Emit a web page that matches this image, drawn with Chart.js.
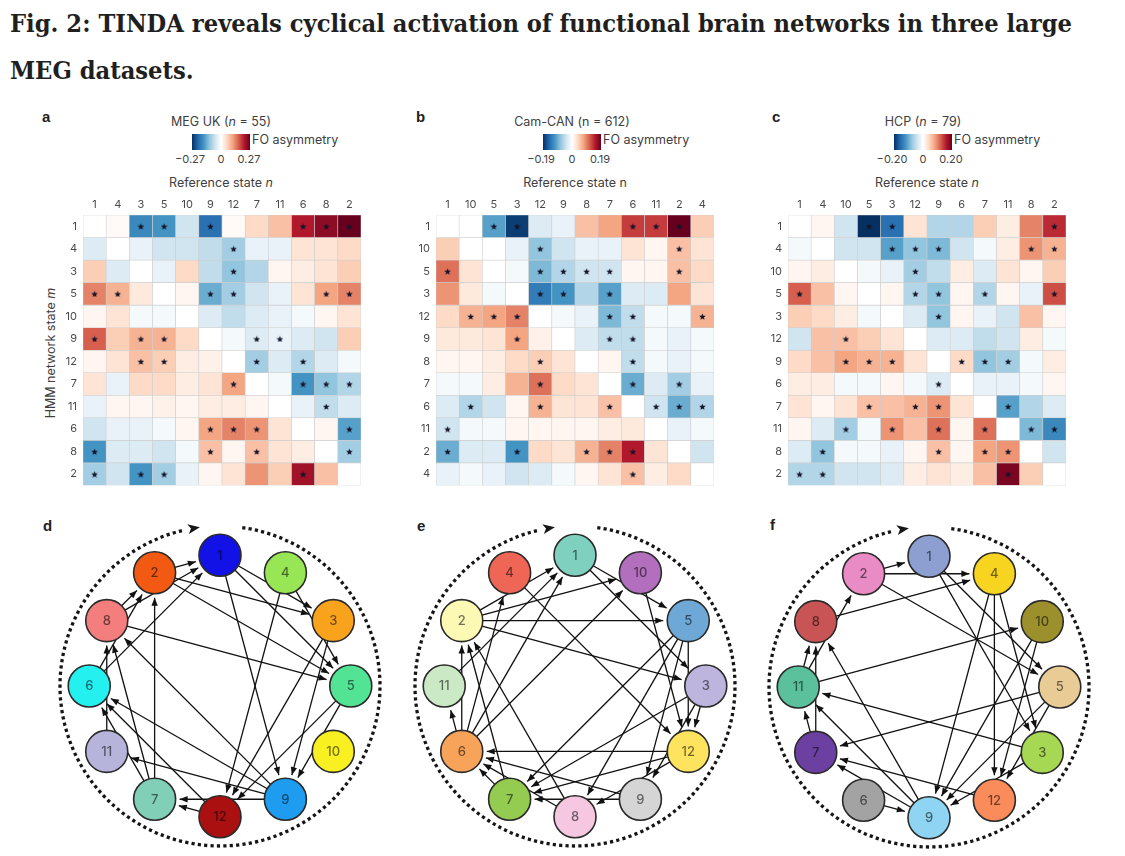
<!DOCTYPE html>
<html>
<head>
<meta charset="utf-8">
<script src="https://cdn.jsdelivr.net/npm/chart.js@4.4.1/dist/chart.umd.min.js"></script>
<style>
  body { margin: 0; width: 1125px; height: 856px; background: #fff; position: relative; overflow: hidden;
         font-family: Inter, "Liberation Sans", sans-serif; color: #404040; }
  .abs { position: absolute; white-space: nowrap; }
  .head { font: bold 25px "DejaVu Serif", serif; color: #1f1f1f; transform-origin: 0 0; }
  .panel { font: bold 15px "Liberation Sans", Arial, sans-serif; color: #222; }
  .t { font-size: 12.5px; }
  .tick { font-size: 11px; color: #444; transform: translateX(-50%); }
  canvas { position: absolute; }
</style>
</head>
<body>
<div id="t1" class="abs head" style="left:10px;top:9px">Fig. 2: TINDA reveals cyclical activation of functional brain networks in three large</div>
<div id="t2" class="abs head" style="left:10px;top:56px">MEG datasets.</div>
<div class="abs panel" style="left:42px;top:108px">a</div>
<div class="abs panel" style="left:416px;top:108px">b</div>
<div class="abs panel" style="left:772px;top:108px">c</div>
<div class="abs panel" style="left:43px;top:517px">d</div>
<div class="abs panel" style="left:417px;top:517px">e</div>
<div class="abs panel" style="left:770px;top:516px">f</div>
<div class="abs t" style="left:50px;top:353px;transform:translate(-50%,-50%) rotate(-90deg)">HMM network state <i>m</i></div>

<canvas id="hA" width="328" height="308" style="left:38px;top:190px;width:328px;height:308px"></canvas>
<canvas id="hB" width="328" height="308" style="left:391px;top:190px;width:328px;height:308px"></canvas>
<canvas id="hC" width="328" height="308" style="left:743px;top:190px;width:328px;height:308px"></canvas>
<canvas id="nD" width="340" height="340" style="left:50px;top:516px;width:340px;height:340px"></canvas>
<canvas id="nE" width="340" height="340" style="left:405px;top:516px;width:340px;height:340px"></canvas>
<canvas id="nF" width="340" height="340" style="left:759px;top:517px;width:340px;height:340px"></canvas>

<script>
// state order used for both rows and columns of each matrix (and around each ring)
const orderA = [1, 4, 3, 5, 10, 9, 12, 7, 11, 6, 8, 2];
const orderB = [1, 10, 5, 3, 12, 9, 8, 7, 6, 11, 2, 4];
const orderC = [1, 4, 10, 5, 3, 12, 9, 6, 7, 11, 8, 2];

// colour bar limits
const limA = 0.27, limB = 0.19, limC = 0.20;

// FO asymmetry, as a fraction of the colour-bar limit (row m, column n)
const foA = [
  [0, 0.03, -0.65, -0.6, -0.2, -0.75, 0.03, 0.2, 0.3, 0.8, 0.9, 1.0],
  [-0.15, 0, -0.1, -0.2, -0.2, -0.25, -0.35, -0.1, -0.1, 0.15, 0.15, 0.2],
  [0.25, -0.15, 0, -0.1, 0.2, -0.25, -0.4, -0.3, 0.05, 0.1, 0.15, 0.25],
  [0.5, 0.35, 0.12, 0, 0.05, -0.5, -0.35, -0.2, -0.1, 0.15, 0.4, 0.5],
  [0.05, 0.15, -0.05, -0.05, 0, -0.15, -0.25, -0.15, -0.1, -0.05, 0.05, 0.15],
  [0.6, 0.25, 0.35, 0.35, 0.2, 0, -0.05, -0.15, -0.1, -0.15, -0.2, 0.25],
  [0.05, 0.15, 0.3, 0.25, 0.1, 0.08, 0, -0.35, -0.15, -0.3, -0.15, -0.05],
  [0.15, -0.1, 0.2, 0.2, 0.1, 0.15, 0.4, 0, -0.05, -0.6, -0.4, -0.3],
  [-0.1, 0.05, 0.05, 0.08, 0.05, 0.1, 0.1, 0.05, 0, -0.1, -0.25, -0.15],
  [-0.2, -0.1, -0.1, -0.05, 0.05, 0.4, 0.5, 0.45, 0.15, 0, 0.05, -0.55],
  [-0.6, -0.15, -0.15, -0.2, -0.05, 0.3, 0.05, 0.3, 0.15, 0.1, 0, -0.35],
  [-0.35, -0.2, -0.6, -0.35, -0.1, 0.05, 0.15, 0.45, 0.25, 0.85, 0.3, 0]
];
const foB = [
  [0, 0, -0.55, -0.95, -0.15, -0.1, 0.3, 0.4, 0.7, 0.7, 1.0, 0.25],
  [0.25, 0, 0, -0.1, -0.4, -0.2, -0.1, -0.1, 0.15, 0.05, 0.3, 0.15],
  [0.55, 0.15, 0, -0.05, -0.45, -0.3, -0.2, -0.2, 0.05, 0.05, 0.3, 0.2],
  [0.45, 0.12, -0.05, 0, -0.7, -0.6, -0.3, -0.55, -0.15, -0.15, 0.4, 0.15],
  [0.2, 0.35, 0.4, 0.5, 0, -0.05, -0.1, -0.45, -0.25, -0.05, -0.05, 0.35],
  [0.12, 0.12, 0.15, 0.4, 0.08, 0, -0.15, -0.25, -0.25, -0.05, -0.1, -0.05],
  [0.05, 0.05, 0.1, 0.2, 0.25, 0.15, 0, 0.05, -0.25, -0.05, -0.1, -0.05],
  [-0.05, -0.05, 0.1, 0.35, 0.55, 0.2, 0.15, 0, -0.5, -0.15, -0.35, -0.1],
  [-0.15, -0.3, -0.2, 0.05, 0.35, 0.15, 0.15, 0.3, 0, -0.2, -0.5, -0.3],
  [-0.2, -0.05, -0.05, 0.05, 0.05, 0.05, 0.05, 0.1, 0.12, 0, -0.1, -0.05],
  [-0.5, -0.15, -0.15, -0.6, 0.2, 0.15, 0.35, 0.5, 0.8, 0.15, 0, -0.2],
  [-0.1, -0.05, -0.1, -0.2, -0.15, -0.05, 0.05, 0.15, 0.3, 0.1, 0.2, 0]
];
const foC = [
  [0, 0.05, -0.2, -1.0, -0.75, 0.15, -0.3, -0.3, 0.25, 0.1, 0.5, 0.75],
  [-0.05, 0, -0.2, -0.2, -0.55, -0.4, -0.45, -0.2, -0.05, 0.1, 0.45, 0.35],
  [0.05, 0.1, 0, -0.05, -0.1, -0.35, -0.25, 0.1, -0.15, 0.15, 0.05, 0.25],
  [0.6, 0.3, 0.05, 0, 0.05, -0.3, -0.4, 0.05, -0.3, 0.05, -0.1, 0.65],
  [0.25, 0.2, 0.1, -0.05, 0, -0.15, -0.4, 0.05, -0.1, -0.2, 0.3, 0.05],
  [-0.2, 0.3, 0.3, 0.25, 0.15, 0, -0.15, -0.15, -0.25, -0.2, 0.1, -0.05],
  [0.2, 0.3, 0.4, 0.35, 0.35, 0.15, 0, 0.2, -0.4, -0.35, -0.05, 0.1],
  [0.1, 0.1, -0.05, -0.05, 0.05, -0.05, -0.15, 0, -0.1, -0.1, -0.05, 0.05],
  [0.15, 0.05, 0.15, 0.3, 0.3, 0.35, 0.45, 0.15, 0, -0.55, -0.3, -0.15],
  [0.05, -0.15, -0.35, -0.05, 0.45, 0.3, 0.55, 0.05, 0.55, 0, -0.45, -0.65],
  [-0.15, -0.4, -0.05, -0.05, -0.1, 0.05, 0.3, 0.05, 0.4, 0.45, 0, -0.2],
  [-0.3, -0.3, -0.2, -0.2, -0.15, 0.1, 0.15, 0.1, 0.3, 0.95, 0.25, 0]
];

// significant cells (*), same row/column order
const sigA = ['..**.*...***', '......*.....', '......*.....', '**...**...**', '............', '*.**...**...',
              '..**...*.*..', '......*..***', '..........*.', '.....***...*', '*....*.*...*', '*.**.....*..'];
const sigB = ['..**....***.', '....*.....*.', '*...****..*.', '....**.*....', '.***...**..*', '...*...**...',
              '....*...*...', '....*...*.*.', '.*..*..*.***', '*...........', '*..*..***...', '........*...'];
const sigC = ['...**......*', '....***...**', '.....*......', '*....**.*..*', '......*.....', '..*.........',
              '..***..***..', '......*.....', '...*.**..*..', '..*.*.*.*.**', '.*....*.**..', '**.......*..'];

// node colours per state
const colD = {1:'#1212e6', 2:'#f25a14', 3:'#f9a21c', 4:'#98e656', 5:'#52e494', 6:'#24f0f0',
              7:'#80cfb6', 8:'#f47e7e', 9:'#1d9cf0', 10:'#f8f020', 11:'#b7b4dc', 12:'#aa1010'};
const colE = {1:'#80d0c0', 2:'#fcf9b4', 3:'#bdb5de', 4:'#ef6556', 5:'#6ea8d6', 6:'#f8a35a',
              7:'#93cc50', 8:'#f6c7e1', 9:'#d5d5d5', 10:'#b26fbe', 11:'#cbe9c4', 12:'#fde35e'};
const colF = {1:'#8d9fd0', 2:'#e98bc5', 3:'#a6d853', 4:'#f7d41f', 5:'#e9cb96', 6:'#a3a3a3',
              7:'#6b40a0', 8:'#c85456', 9:'#8fd4f2', 10:'#9c902d', 11:'#5ac19c', 12:'#f98c5a'};

const STOPS = [
  [-1.0, [5, 48, 97]], [-0.8, [33, 102, 172]], [-0.6, [67, 147, 195]], [-0.4, [146, 197, 222]],
  [-0.2, [209, 229, 240]], [0, [255, 255, 255]], [0.2, [253, 219, 199]], [0.4, [244, 165, 130]],
  [0.6, [214, 96, 77]], [0.8, [178, 24, 43]], [1.0, [103, 0, 31]]
];
function rdbu(t) {
  t = Math.max(-1, Math.min(1, t));
  for (let k = 1; k < STOPS.length; k++) {
    if (t <= STOPS[k][0]) {
      const [t0, c0] = STOPS[k - 1], [t1, c1] = STOPS[k];
      const f = (t - t0) / (t1 - t0);
      return 'rgb(' + c0.map((c, i) => Math.round(c + (c1[i] - c) * f)).join(',') + ')';
    }
  }
}

function makeStar(size, color) {
  const c = document.createElement('canvas');
  c.width = size; c.height = size;
  const g = c.getContext('2d');
  g.fillStyle = color;
  g.beginPath();
  for (let k = 0; k < 10; k++) {
    const r = k % 2 ? size * 0.22 : size * 0.5;
    const a = -Math.PI / 2 + k * Math.PI / 5;
    g.lineTo(size / 2 + r * Math.cos(a), size / 2 + r * Math.sin(a) + size * 0.06);
  }
  g.closePath();
  g.fill();
  return c;
}
const starImg = makeStar(7, '#141428');

// --- header text over each matrix ---
function header(cx, titleHtml, lim, refHtml, gridCx) {
  const add = (html, cls, style) => {
    const d = document.createElement('div');
    d.className = 'abs ' + cls; d.style.cssText = style; d.innerHTML = html;
    document.body.appendChild(d);
    return d;
  };
  add(titleHtml, 't', `left:${cx}px;top:114px;transform:translateX(-50%)`);
  const grad = STOPS.map(s => `rgb(${s[1].join(',')}) ${(s[0] + 1) * 50}%`).join(',');
  add('', '', `left:${cx - 29}px;top:134px;width:58px;height:16px;background:linear-gradient(to right,${grad})`);
  add('FO asymmetry', 't', `left:${cx + 31}px;top:132px`);
  add('&minus;' + lim.toFixed(2), 'tick', `left:${cx - 31}px;top:152px`);
  add('0', 'tick', `left:${cx}px;top:152px`);
  add(lim.toFixed(2), 'tick', `left:${cx + 28}px;top:152px`);
  add(refHtml, 't', `left:${gridCx}px;top:175px;transform:translateX(-50%)`);
}

function heatmap(id, order, fo, sig) {
  const labels = order.map(String);
  const datasets = fo.map((row, i) => ({
    type: 'bar',
    data: row.map(() => [i - 0.5, i + 0.5]),
    backgroundColor: row.map(v => rdbu(v)),
    borderColor: '#cdcdcd',
    borderWidth: 0.6,
    borderSkipped: false,
    barPercentage: 1,
    categoryPercentage: 1,
    grouped: false,
    order: 2
  }));
  const stars = [];
  sig.forEach((s, i) => [...s].forEach((c, j) => { if (c === '*') stars.push({ x: labels[j], y: i }); }));
  datasets.push({ type: 'scatter', data: stars, pointStyle: starImg, pointRadius: 4, order: 0 });

  new Chart(document.getElementById(id), {
    data: { labels: labels, datasets: datasets },
    options: {
      responsive: false,
      animation: false,
      layout: { padding: { left: 0, top: 0, right: 3, bottom: 3 } },
      plugins: { legend: { display: false }, tooltip: { enabled: false } },
      scales: {
        x: {
          type: 'category', position: 'top', offset: true,
          grid: { display: false, drawTicks: false }, border: { display: false },
          ticks: { font: { family: 'Inter', size: 11 }, color: '#4a4a4a', padding: 4, maxRotation: 0, autoSkip: false },
          afterFit: s => { s.height = 25; }
        },
        y: {
          type: 'linear', min: -0.5, max: 11.5, reverse: true,
          grid: { display: false, drawTicks: false }, border: { display: false },
          afterBuildTicks: s => { s.ticks = labels.map((_, i) => ({ value: i })); },
          ticks: { callback: v => labels[v], font: { family: 'Inter', size: 11 }, color: '#4a4a4a', padding: 6 },
          afterFit: s => { s.width = 45; }
        }
      }
    }
  });
}

// --- ring diagrams: an arrow n -> m for each significant cell (direction from its sign) ---
const UNIT = 340 / 2.6;          // pixels per data unit
const OUTER = 160 / UNIT;        // dotted ring radius
const NODE_R = 21;

const ringPlugin = {
  id: 'ring',
  beforeDatasetsDraw(chart) {
    const { ctx, scales: { x, y } } = chart;
    const cx = x.getPixelForValue(0), cy = y.getPixelForValue(0);
    const R = x.getPixelForValue(OUTER) - cx;
    const a0 = (-90 + 8) * Math.PI / 180, a1 = (270 - 9) * Math.PI / 180;
    ctx.save();
    ctx.strokeStyle = '#151515';
    ctx.lineWidth = 3.3;
    ctx.setLineDash([3.2, 3.2]);
    ctx.beginPath();
    ctx.arc(cx, cy, R, a0, a1 - 0.07, false);
    ctx.stroke();
    ctx.setLineDash([]);
    const tx = cx + R * Math.cos(a1), ty = cy + R * Math.sin(a1);
    const dx = -Math.sin(a1), dy = Math.cos(a1), nx = -dy, ny = dx;
    ctx.fillStyle = '#151515';
    ctx.beginPath();
    ctx.moveTo(tx + dx * 5, ty + dy * 5);
    ctx.lineTo(tx - dx * 7 + nx * 5, ty - dy * 7 + ny * 5);
    ctx.lineTo(tx - dx * 4, ty - dy * 4);
    ctx.lineTo(tx - dx * 7 - nx * 5, ty - dy * 7 - ny * 5);
    ctx.closePath();
    ctx.fill();
    ctx.restore();
  },
  afterDatasetsDraw(chart) {
    const ctx = chart.ctx;
    ctx.save();
    chart.data.datasets.forEach((ds, i) => {
      const meta = chart.getDatasetMeta(i);
      if (ds.isEdge) {
        const p0 = meta.data[0], p1 = meta.data[1];
        const ang = Math.atan2(p1.y - p0.y, p1.x - p0.x);
        const ux = Math.cos(ang), uy = Math.sin(ang);
        ctx.fillStyle = '#111';
        ctx.beginPath();
        ctx.moveTo(p1.x, p1.y);
        ctx.lineTo(p1.x - ux * 8 - uy * 3.2, p1.y - uy * 8 + ux * 3.2);
        ctx.lineTo(p1.x - ux * 8 + uy * 3.2, p1.y - uy * 8 - ux * 3.2);
        ctx.closePath();
        ctx.fill();
      } else if (ds.stateLabels) {
        ctx.fillStyle = 'rgba(0,0,0,0.55)';
        ctx.font = '500 13px Inter';
        ctx.textAlign = 'center';
        ctx.textBaseline = 'middle';
        meta.data.forEach((pt, k) => ctx.fillText(ds.stateLabels[k], pt.x, pt.y + 0.5));
      }
    });
    ctx.restore();
  }
};

function network(id, order, fo, sig, colours) {
  const n = order.length;
  const pos = {};
  order.forEach((s, k) => {
    const a = k * 2 * Math.PI / n;
    pos[s] = { x: Math.sin(a), y: Math.cos(a) };
  });
  const edges = [], seen = new Set();
  sig.forEach((str, i) => [...str].forEach((c, j) => {
    if (c !== '*') return;
    const m = order[i], ref = order[j];
    const pair = fo[i][j] > 0 ? [ref, m] : [m, ref];
    const key = pair.join('>');
    if (!seen.has(key)) { seen.add(key); edges.push(pair); }
  }));

  const r0 = NODE_R / UNIT, r1 = (NODE_R + 4) / UNIT;
  const datasets = edges.map(([from, to]) => {
    const a = pos[from], b = pos[to];
    const L = Math.hypot(b.x - a.x, b.y - a.y), ux = (b.x - a.x) / L, uy = (b.y - a.y) / L;
    return {
      isEdge: true,
      showLine: true,
      data: [{ x: a.x + ux * r0, y: a.y + uy * r0 }, { x: b.x - ux * r1, y: b.y - uy * r1 }],
      borderColor: '#111', borderWidth: 1.3, pointRadius: 0, clip: false, order: 1
    };
  });
  datasets.push({
    stateLabels: order.map(String),
    data: order.map(s => pos[s]),
    pointRadius: NODE_R,
    backgroundColor: order.map(s => colours[s]),
    borderColor: '#2a2a2a', borderWidth: 1.6, clip: false, order: 0
  });

  new Chart(document.getElementById(id), {
    type: 'scatter',
    data: { datasets: datasets },
    options: {
      responsive: false,
      animation: false,
      layout: { padding: 0, autoPadding: false },
      plugins: { legend: { display: false }, tooltip: { enabled: false } },
      scales: {
        x: { type: 'linear', min: -1.3, max: 1.3, display: false },
        y: { type: 'linear', min: -1.3, max: 1.3, display: false }
      }
    },
    plugins: [ringPlugin]
  });
}

header(221, 'MEG UK (<i>n</i> = 55)', limA, 'Reference state <i>n</i>', 221);
header(572, 'Cam-CAN (n = 612)', limB, 'Reference state n', 575);
header(923, 'HCP (<i>n</i> = 79)', limC, 'Reference state <i>n</i>', 927);

heatmap('hA', orderA, foA, sigA);
heatmap('hB', orderB, foB, sigB);
heatmap('hC', orderC, foC, sigC);

network('nD', orderA, foA, sigA, colD);
network('nE', orderB, foB, sigB, colE);
network('nF', orderC, foC, sigC, colF);

// stretch the headline so it spans the same width as in the figure
const t1 = document.getElementById('t1'), t2 = document.getElementById('t2');
const sx = 1062 / t1.getBoundingClientRect().width;
t1.style.transform = t2.style.transform = `scaleX(${sx})`;
</script>
</body>
</html>
